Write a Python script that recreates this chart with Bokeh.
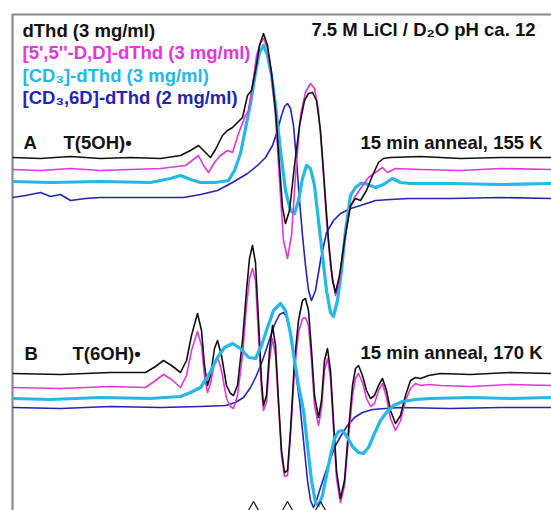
from bokeh.plotting import figure
from bokeh.models import Range1d
from bokeh.core.properties import value
from bokeh.embed import file_html
from bokeh.resources import INLINE

# ---------------- data (field position vs. signal, screen-down units) ----
# Panel A  (T(5OH)•, 155 K)
a_dthd_x = [12, 40, 70, 100, 130, 160, 180, 190, 198, 205, 210, 215, 222, 227, 232, 237, 242, 247, 251, 255, 259, 263, 267, 271, 275, 279, 282, 285, 289, 294, 299, 304, 308, 312, 316, 320, 324, 328, 332, 335, 339, 344, 350, 355, 360, 366, 372, 378, 383, 390, 420, 460, 500, 551]
a_dthd_y = [157, 158, 156, 158, 157, 158, 155, 150, 145, 152, 157, 149, 135, 130, 127, 122, 117, 95, 90, 70, 45, 33, 45, 72, 110, 165, 207, 223, 210, 165, 125, 100, 93, 92, 100, 130, 185, 240, 280, 292, 275, 240, 205, 198, 200, 190, 175, 162, 158, 157, 156, 158, 157, 157]

a_dd_x = [12, 40, 70, 100, 130, 160, 185, 198, 203, 208, 214, 220, 227, 232, 238, 245, 248, 252, 256, 260, 263, 267, 271, 275, 279, 283, 287, 291, 295, 300, 305, 310, 314, 318, 322, 326, 330, 335, 339, 344, 349, 354, 360, 368, 375, 382, 387, 395, 420, 460, 500, 551]
a_dd_y = [169, 170, 168, 170, 169, 168, 165, 155, 165, 172, 162, 155, 150, 152, 133, 115, 110, 85, 55, 42, 38, 48, 75, 115, 180, 240, 258, 235, 175, 115, 92, 83, 88, 110, 160, 220, 265, 295, 280, 240, 210, 197, 188, 177, 172, 167, 172, 168, 169, 170, 168, 169]

a_cd3_x = [12, 50, 100, 150, 170, 180, 190, 200, 215, 228, 234, 240, 245, 250, 255, 259, 263, 267, 271, 275, 280, 285, 290, 294, 298, 302, 306, 310, 314, 318, 322, 326, 330, 333, 337, 341, 345, 350, 355, 360, 365, 370, 375, 383, 392, 400, 410, 450, 500, 551]
a_cd3_y = [181, 182, 181, 182, 178, 175, 179, 182, 182, 180, 170, 153, 128, 103, 72, 52, 45, 55, 75, 105, 150, 190, 210, 213, 200, 178, 165, 168, 185, 220, 255, 290, 312, 316, 300, 270, 230, 195, 187, 183, 183, 185, 187, 184, 178, 182, 183, 183, 184, 183]

a_cd36d_x = [12, 25, 40, 50, 60, 70, 85, 100, 140, 183, 200, 217, 232, 247, 257, 265, 272, 277, 281, 284, 287, 290, 293, 296, 299, 302, 305, 308, 311, 315, 320, 326, 333, 340, 350, 360, 375, 390, 408, 450, 500, 551]
a_cd36d_y = [197, 195, 192, 196, 194, 200, 198, 197, 197, 197, 194, 190, 182, 173, 165, 157, 145, 130, 115, 106, 103, 108, 125, 160, 200, 235, 265, 290, 300, 290, 260, 232, 220, 213, 208, 205, 200, 199, 198, 198, 197, 198]

# Panel B  (T(6OH)•, 170 K)
b_dthd_x = [12, 60, 110, 145, 155, 163, 171, 180, 186, 191, 197, 201, 204, 207, 210, 214, 217, 221, 226, 230, 233, 237, 242, 246, 249, 252, 255, 258, 261, 263, 266, 269, 272, 275, 278, 281, 284, 287, 290, 294, 298, 302, 305, 308, 311, 314, 318, 321, 324, 327, 330, 333, 336, 340, 344, 348, 352, 355, 358, 362, 366, 370, 374, 378, 382, 386, 390, 395, 400, 405, 410, 415, 420, 428, 440, 470, 510, 551]
b_dthd_y = [373, 374, 372, 372, 366, 360, 365, 372, 360, 335, 313, 330, 365, 385, 375, 348, 340, 355, 385, 393, 395, 385, 340, 290, 258, 245, 262, 320, 380, 405, 395, 350, 325, 345, 400, 450, 472, 470, 430, 360, 320, 300, 298, 310, 350, 395, 417, 400, 360, 348, 370, 420, 470, 498, 480, 430, 385, 368, 365, 375, 390, 398, 395, 385, 378, 390, 410, 423, 415, 395, 380, 377, 378, 375, 373, 374, 372, 373]

b_dd_x = b_dthd_x
b_dd_y = [387, 388, 386, 387, 380, 374, 379, 387, 375, 350, 331, 345, 375, 392, 383, 362, 356, 370, 398, 406, 408, 395, 355, 305, 278, 268, 280, 335, 390, 410, 402, 360, 338, 355, 405, 455, 476, 475, 435, 370, 332, 318, 317, 325, 360, 405, 425, 408, 370, 358, 378, 428, 478, 502, 485, 438, 395, 378, 373, 382, 398, 406, 403, 390, 383, 397, 418, 430, 420, 400, 388, 383, 385, 384, 385, 386, 384, 385]

b_cd3_x = [12, 50, 100, 150, 180, 190, 200, 208, 217, 224, 232, 240, 248, 255, 261, 267, 273, 280, 285, 290, 294, 298, 303, 307, 311, 315, 318, 322, 326, 330, 334, 338, 342, 347, 352, 358, 363, 368, 374, 380, 386, 393, 402, 415, 430, 470, 510, 551]
b_cd3_y = [398, 399, 397, 398, 396, 392, 387, 375, 357, 347, 343, 348, 357, 358, 345, 327, 310, 303, 310, 333, 360, 385, 410, 445, 480, 502, 505, 495, 475, 455, 438, 431, 430, 437, 446, 452, 453, 447, 433, 420, 412, 405, 401, 399, 398, 397, 398, 397]

b_cd36d_x = [12, 60, 110, 160, 200, 225, 235, 243, 250, 256, 262, 268, 274, 279, 283, 287, 291, 295, 299, 303, 307, 310, 313, 316, 320, 325, 330, 335, 340, 347, 354, 362, 372, 385, 400, 450, 500, 551]
b_cd36d_y = [407, 408, 406, 407, 406, 405, 402, 397, 387, 375, 360, 342, 324, 314, 312, 318, 340, 370, 400, 440, 480, 500, 507, 500, 487, 472, 458, 445, 436, 425, 417, 412, 409, 408, 407, 408, 407, 407]

marker_x = [253, 287, 320]
marker_y = [508, 508, 508]

legend_labels = ["dThd (3 mg/ml)", "[5',5''-D,D]-dThd (3 mg/ml)", "[CD\u2083]-dThd (3 mg/ml)", "[CD\u2083,6D]-dThd (2 mg/ml)"]

BLACK = "#111111"
MAGENTA = "#e535dd"
CYAN = "#25b7e6"
BLUE = "#2424b8"
FRAME = "#8a8a8a"
FONT = value("Liberation Sans")

p = figure(width=551, height=510, output_backend="svg", toolbar_location=None,
           x_axis_type=None, y_axis_type=None, min_border=0,
           x_range=Range1d(0, 551), y_range=Range1d(510, 0))
p.outline_line_color = None
p.background_fill_color = "white"
p.border_fill_color = "white"

# plot frame (only top and left edges visible)
FRAME_LEFT, FRAME_TOP = 12, 14
p.line([FRAME_LEFT, FRAME_LEFT, 700], [700, FRAME_TOP, FRAME_TOP],
       line_color=FRAME, line_width=2.2)

for xs, ys, c, w in [
    (a_cd36d_x, a_cd36d_y, BLUE, 1.6),
    (a_cd3_x, a_cd3_y, CYAN, 3.2),
    (a_dd_x, a_dd_y, MAGENTA, 1.6),
    (a_dthd_x, a_dthd_y, BLACK, 1.6),
    (b_cd36d_x, b_cd36d_y, BLUE, 1.6),
    (b_dd_x, b_dd_y, MAGENTA, 1.6),
    (b_dthd_x, b_dthd_y, BLACK, 1.6),
    (b_cd3_x, b_cd3_y, CYAN, 3.2),
]:
    p.line(xs, ys, line_color=c, line_width=w, line_join="round")

p.scatter(marker_x, marker_y, marker="triangle", size=12, fill_color=None,
          line_color=BLACK, line_width=1.2)

def txt(x, y, s, color=BLACK, size="18.5px", align="left"):
    p.text(x=[x], y=[y], text=[s], text_color=color, text_font=FONT,
           text_font_style="bold", text_font_size=size, text_baseline="middle",
           text_align=align)

for i, (lab, col) in enumerate(zip(legend_labels, [BLACK, MAGENTA, CYAN, BLUE])):
    txt(22, 30 + i * 22.3, lab, col)

txt(535, 29, "7.5 M LiCl / D\u2082O pH ca. 12", align="right")
txt(23, 142, "A")
txt(63, 142, "T(5OH)\u2022")
txt(542, 142, "15 min anneal, 155 K", align="right")
txt(24, 353, "B")
txt(72, 353, "T(6OH)\u2022")
txt(542, 352, "15 min anneal, 170 K", align="right")

open("out.html", "w").write(file_html(p, INLINE))
